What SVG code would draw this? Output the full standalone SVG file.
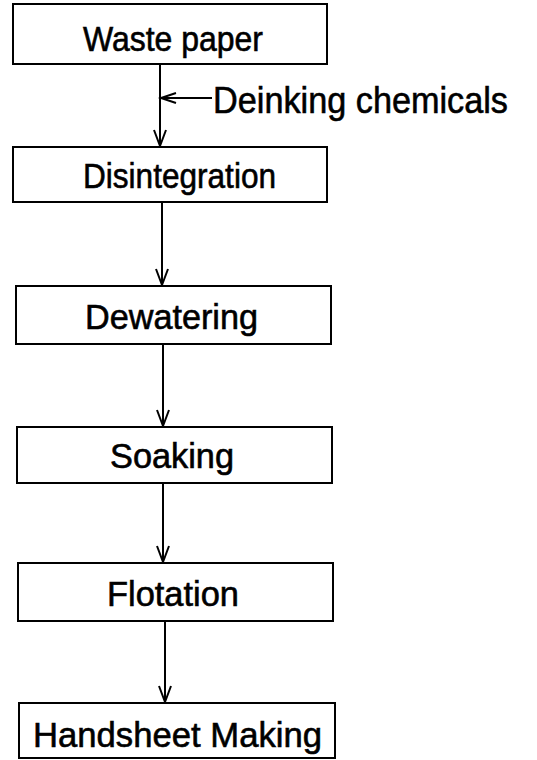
<svg xmlns="http://www.w3.org/2000/svg" width="537" height="760" viewBox="0 0 537 760">
<style>
.box{fill:#fff;stroke:#000;stroke-width:2}
.t{font-family:"Liberation Sans",Arial,sans-serif;font-size:35px;fill:#000;stroke:#000;stroke-width:0.6}
.c{stroke:#000;stroke-width:2;fill:none}
.ah{stroke:#000;stroke-width:2;fill:none;stroke-linejoin:miter}
</style>
<rect width="537" height="760" fill="#fff"/>
<g id="connectors">
<line class="c" x1="160" y1="64" x2="160" y2="146"/>
<path class="ah" d="M154,130 L160,146 L166,130"/>
<line class="c" x1="161" y1="98" x2="212" y2="98"/>
<path class="ah" d="M176,93 L161,98 L176,103"/>
<line class="c" x1="162" y1="202" x2="162" y2="285"/>
<path class="ah" d="M156,269 L162,285 L168,269"/>
<line class="c" x1="163" y1="344" x2="163" y2="426"/>
<path class="ah" d="M157,410 L163,426 L169,410"/>
<line class="c" x1="163" y1="483" x2="163" y2="562"/>
<path class="ah" d="M157,546 L163,562 L169,546"/>
<line class="c" x1="165" y1="621" x2="165" y2="702"/>
<path class="ah" d="M159,686 L165,702 L171,686"/>
</g>
<g id="deinking">
<text class="t" x="213" y="113" style="font-size:37px" textLength="295" lengthAdjust="spacingAndGlyphs">Deinking chemicals</text>
</g>
<g id="waste-paper">
<rect class="box" x="13" y="4" width="314" height="60"/>
<text class="t" x="83" y="51" textLength="180" lengthAdjust="spacingAndGlyphs">Waste paper</text>
</g>
<g id="disintegration">
<rect class="box" x="13" y="147" width="314" height="55"/>
<text class="t" x="83" y="188" textLength="193" lengthAdjust="spacingAndGlyphs">Disintegration</text>
</g>
<g id="dewatering">
<rect class="box" x="16" y="286" width="315" height="58"/>
<text class="t" x="85" y="329" textLength="173" lengthAdjust="spacingAndGlyphs">Dewatering</text>
</g>
<g id="soaking">
<rect class="box" x="17" y="427" width="315" height="56"/>
<text class="t" x="110" y="468" textLength="124" lengthAdjust="spacingAndGlyphs">Soaking</text>
</g>
<g id="flotation">
<rect class="box" x="18" y="563" width="315" height="58"/>
<text class="t" x="107" y="606" textLength="132" lengthAdjust="spacingAndGlyphs">Flotation</text>
</g>
<g id="handsheet">
<rect class="box" x="19" y="703" width="316" height="55"/>
<text class="t" x="33" y="747" textLength="289" lengthAdjust="spacingAndGlyphs">Handsheet Making</text>
</g>
</svg>
